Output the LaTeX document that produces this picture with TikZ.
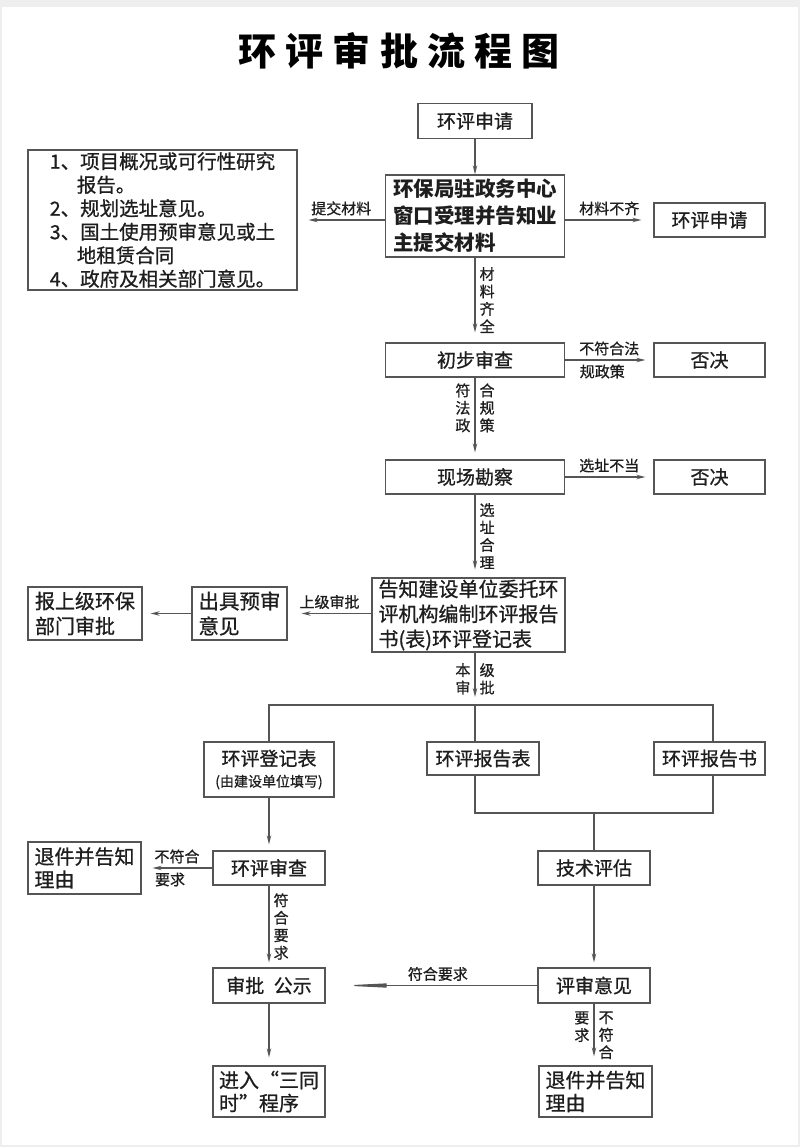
\documentclass[tikz,border=0pt]{standalone}
\usepackage{fontspec}
\setmainfont{Noto Sans CJK SC}[UprightFeatures={FakeBold=0.8}]
\usepackage{xcolor}
\usepackage{tikz}
\usetikzlibrary{arrows.meta,positioning}

\definecolor{linegray}{HTML}{555555}
\definecolor{inkgray}{HTML}{1E1E1E}
\definecolor{pagegray}{HTML}{EEEEEE}

\tikzset{
  box/.style={draw=linegray, line width=1.3pt, fill=white, inner sep=0pt, text=inkgray, font=\fontsize{19}{24}\selectfont},
  flow/.style={-{Stealth[length=9pt,width=4.5pt]}, draw=linegray, line width=1.2pt, shorten >=8pt},
  link/.style={draw=linegray, line width=1.2pt},
  tag/.style={font=\fontsize{15}{17.5}\selectfont, text=inkgray, inner sep=4pt, align=center},
}

\begin{document}
\begin{tikzpicture}[x=1pt, y=-1pt]
  \fill[pagegray] (0,0) rectangle (800,1147);
  \fill[white] (2,7) rectangle (798,1145);
  \useasboundingbox (0,0) rectangle (800,1147);

  \node[text=black, font=\fontsize{38}{40}\selectfont\bfseries] (title) at (399,51) {\addfontfeature{LetterSpace=24}环评审批流程图};

  % main column
  \node[box, minimum width=114pt, minimum height=35pt] (apply) at (475,121) {环评申请};
  \node[box, minimum width=179pt, minimum height=82pt, align=left, font=\fontsize{20.5}{27}\selectfont\bfseries] (window) at (475,216) {环保局驻政务中心\\窗口受理并告知业\\主提交材料};
  \node[box, minimum width=269pt, minimum height=140pt, align=left, font=\fontsize{19.5}{23.5}\selectfont] (docs) at (162.5,220) {1、项目概况或可行性研究\\\hspace{27pt}报告。\\2、规划选址意见。\\3、国土使用预审意见或土\\\hspace{27pt}地租赁合同\\4、政府及相关部门意见。};
  \node[box, minimum width=111pt, minimum height=34pt] (lack) at (709.5,220) {环评申请};
  \node[box, minimum width=179pt, minimum height=34pt] (precheck) at (475,360) {初步审查};
  \node[box, minimum width=111pt, minimum height=34pt] (veto1) at (709.5,360) {否决};
  \node[box, minimum width=179pt, minimum height=34pt] (survey) at (475,477) {现场勘察};
  \node[box, minimum width=111pt, minimum height=34pt] (veto2) at (709.5,477) {否决};
  \node[box, minimum width=193pt, minimum height=74pt, align=left, font=\fontsize{20}{25}\selectfont] (notify) at (468.5,615) {告知建设单位委托环\\评机构编制环评报告\\书(表)环评登记表};
  \node[box, minimum width=95pt, minimum height=53pt, align=left, font=\fontsize{20.5}{25}\selectfont] (preview) at (239.5,613.5) {出具预审\\意见};
  \node[box, minimum width=114pt, minimum height=53pt, align=left, font=\fontsize{20}{25}\selectfont] (upper) at (85,613.5) {报上级环保\\部门审批};

  % three kinds of report
  \node[box, minimum width=130pt, minimum height=55pt, align=center] (form) at (269,769.5) {环评登记表\\[-3pt]{\fontsize{14}{16}\selectfont(由建设单位填写)}};
  \node[box, minimum width=112pt, minimum height=33pt] (rtable) at (483,758.5) {环评报告表};
  \node[box, minimum width=111pt, minimum height=33pt] (rbook) at (709.5,758.5) {环评报告书};
  \node[box, minimum width=112pt, minimum height=34pt] (review) at (269,868) {环评审查};
  \node[box, minimum width=113pt, minimum height=52pt, align=left, font=\fontsize{20}{23}\selectfont] (back1) at (84.5,868) {退件并告知\\理由};
  \node[box, minimum width=112pt, minimum height=34pt] (tech) at (594,868) {技术评估};
  \node[box, minimum width=112pt, minimum height=35pt] (approve) at (269,985.5) {审批\hspace{0.5em}公示};
  \node[box, minimum width=112pt, minimum height=35pt] (opinion) at (594,985.5) {评审意见};
  \node[box, minimum width=112pt, minimum height=51pt, align=left, font=\fontsize{20}{23}\selectfont] (enter) at (269,1091.5) {进入“三同\\时”程序};
  \node[box, minimum width=113pt, minimum height=51pt, align=left, font=\fontsize{20}{23}\selectfont] (back2) at (595.5,1091.5) {退件并告知\\理由};

  \coordinate (bus) at (475,705);
  \coordinate (busL) at (form.north |- bus);
  \coordinate (busR) at (713,705);
  \coordinate (join) at (594,813);

  \draw[flow, shorten >=0pt] (apply) -- (window);
  \draw[flow, shorten >=11pt] (window.west |- docs) -- node[tag, above] {提交材料} (docs);
  \draw[flow, shorten >=12pt] (window.east |- lack) -- node[tag, above] {材料不齐} (lack);
  \draw[flow, shorten >=10pt] (window) -- node[tag, right] {材\\料\\齐\\全} (precheck);
  \draw[flow] (precheck) -- node[tag, above] {不符合法} node[tag, below, xshift=-7pt] {规政策} (veto1);
  \draw[flow, shorten >=7pt] (precheck) -- node[tag, left, pos=0.37] {符\\法\\政} node[tag, right, pos=0.37] {合\\规\\策} (survey);
  \draw[flow] (survey) -- node[tag, above] {选址不当} (veto2);
  \draw[flow] (survey) -- node[tag, right] {选\\址\\合\\理} (notify.north -| survey);
  \draw[flow, shorten >=14pt] (notify.west |- preview) -- node[tag, above] {上级审批} (preview);
  \draw[flow] (preview) -- (upper);
  \draw[flow] (notify.south -| bus) -- node[tag, left] {本\\审} node[tag, right] {级\\批} (bus);

  \draw[link] (form.north) -- (busL) -- (busR) -- (busR |- rbook.north);
  \draw[link] (bus) -- (bus |- rtable.north);
  \draw[link] (bus |- rtable.south) -- (bus |- join) -- (busR |- join) -- (busR |- rbook.south);
  \draw[link] (join) -- (tech);

  \draw[flow, shorten >=6pt] (form) -- (review);
  \draw[flow, shorten >=11pt] (review) -- node[tag, above] {不符合} node[tag, below, xshift=-7pt] {要求} (back1);
  \draw[flow, shorten >=5pt] (review) -- node[tag, right] {符\\合\\要\\求} (approve);
  \draw[flow, shorten >=5pt] (tech) -- (opinion);
  \draw[link, -{Triangle[length=46pt,width=4pt]}, shorten >=15pt] (opinion) -- node[tag, above, pos=0.47] {符合要求} (approve);
  \draw[flow] (approve) -- (enter);
  \draw[flow, shorten >=9pt] (opinion.south) -- node[tag, anchor=north east, pos=0.05] {要\\求} node[tag, anchor=north west, pos=0.05] {不\\符\\合} (opinion.south |- back2.north);
\end{tikzpicture}
\end{document}
